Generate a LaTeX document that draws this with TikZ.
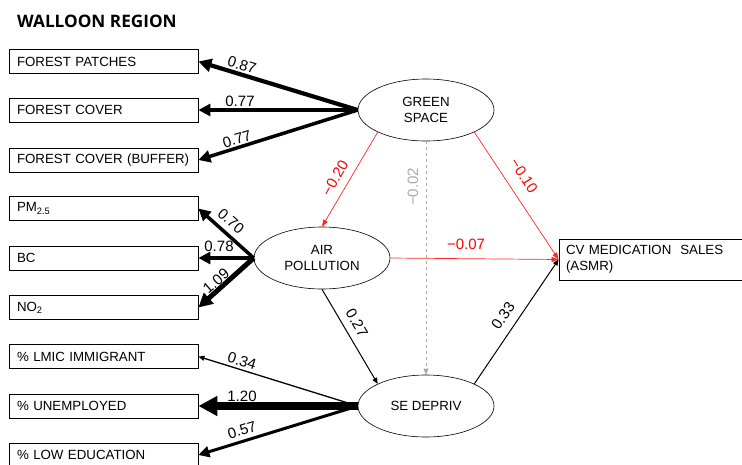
\documentclass[tikz,border=0pt]{standalone}
\usepackage{fontspec}
\setmainfont{Liberation Sans}
\newfontfamily\titlefont{Open Sans}
\usetikzlibrary{arrows.meta,shapes.geometric}
\definecolor{lred}{RGB}{255,40,40}
\definecolor{lgray}{RGB}{170,170,170}
\tikzset{
  box/.style={draw, rectangle, line width=0.8pt, minimum height=24pt, text width=173pt, inner xsep=8pt, inner ysep=0pt, align=left, font=\fontsize{13.3}{15}\selectfont},
  latent/.style={draw, ellipse, line width=0.6pt, minimum width=136pt, minimum height=62pt, inner sep=0pt, align=center, font=\fontsize{13.3}{15.5}\selectfont, fill=white},
  lab/.style={font=\fontsize{15}{15}\selectfont, inner sep=0pt},
  thin/.style={line width=1pt, -{Triangle[length=6pt,width=5pt]}},
  redarr/.style={lred, line width=0.7pt, -{Triangle[length=7pt,width=5pt]}},
}
\begin{document}
\begin{tikzpicture}[x=1pt,y=-1pt]
\useasboundingbox (0,0) rectangle (742,464);
% title
\node[anchor=base west, inner sep=0pt, font=\titlefont\bfseries\fontsize{17.2}{17}\selectfont] (title) at (17,27) {WALLOON REGION};
% indicator boxes
\node[box] (fp) at (103.5,61.5) {FOREST PATCHES};
\node[box] (fc) at (103.5,110) {FOREST COVER};
\node[box] (fcb) at (103.5,160) {FOREST COVER (BUFFER)};
\node[box] (pm) at (103.5,208.5) {PM\textsubscript{2.5}};
\node[box] (bc) at (103.5,258) {BC};
\node[box] (no) at (103.5,307.5) {NO\textsubscript{2}};
\node[box] (lmic) at (103.5,356.5) {\% LMIC IMMIGRANT};
\node[box] (unemp) at (103.5,406) {\% UNEMPLOYED};
\node[box] (edu) at (103.5,455) {\% LOW EDUCATION};
% outcome
\node[draw, rectangle, line width=0.8pt, minimum height=41pt, text width=171pt, inner xsep=7pt, align=left, font=\fontsize{13.3}{16}\selectfont] (cv) at (651.5,259.5) {CV MEDICATION\ \ SALES\\(ASMR)};
% latent
\node[latent] (green) at (426,110) {GREEN\\SPACE};
\node[latent] (air) at (322,258) {AIR\\POLLUTION};
\node[latent] (se) at (426,406) {SE DEPRIV};
% loadings green
\draw[line width=4.2pt, -{Triangle[length=13pt,width=13pt]}] (green.west) -- (fp.east);
\draw[line width=3.5pt, -{Triangle[length=12pt,width=12pt]}] (green.west) -- (fc.east);
\draw[line width=3.5pt, -{Triangle[length=12pt,width=12pt]}] (green.west) -- (fcb.east);
% loadings air
\draw[line width=3.5pt, -{Triangle[length=12pt,width=12pt]}] (air.west) -- (pm.east);
\draw[line width=3.5pt, -{Triangle[length=12pt,width=12pt]}] (air.west) -- (bc.east);
\draw[line width=5pt, -{Triangle[length=14pt,width=14pt]}] (air.west) -- (no.east);
% loadings se
\draw[thin, line width=1.3pt] (se.west) -- (lmic.east);
\draw[line width=8pt, -{Triangle[length=19pt,width=19pt]}] (se.west) -- (unemp.east);
\draw[line width=3pt, -{Triangle[length=11pt,width=11pt]}] (se.west) -- (edu.east);
% structural paths
\draw[thin] (se.north east) -- (cv.west);
\draw[thin] (air.south) -- (se.north west);
\draw[lgray, dashed, line width=0.7pt, -{Triangle[length=6pt,width=5pt]}] (green.south) -- (se.north);
\draw[redarr] (green.south west) -- (air.north);
\draw[redarr] (green.south east) -- (cv.west);
\draw[redarr] (air.east) -- (cv.west);
% labels
\node[lab, rotate=-17] (l1) at (242,65) {0.87};
\node[lab] (l2) at (240,101) {0.77};
\node[lab, rotate=17] (l3) at (237,139) {0.77};
\node[lab, rotate=-41] (l4) at (231,221) {0.70};
\node[lab] (l5) at (219,246) {0.78};
\node[lab, rotate=41] (l6) at (216,281) {1.09};
\node[lab, rotate=-17] (l7) at (242,361) {0.34};
\node[lab] (l8) at (242,396) {1.20};
\node[lab, rotate=17] (l9) at (242,430) {0.57};
\node[lab, red, rotate=60] (l10) at (335,178) {−0.20};
\node[lab, lgray, rotate=90] (l11) at (413,187) {−0.02};
\node[lab, red, rotate=-57] (l12) at (524,176) {−0.10};
\node[lab, red] (l13) at (466,244) {−0.07};
\node[lab, rotate=-60] (l14) at (357,323) {0.27};
\node[lab, rotate=55] (l15) at (503,316) {0.33};
\end{tikzpicture}
\end{document}
